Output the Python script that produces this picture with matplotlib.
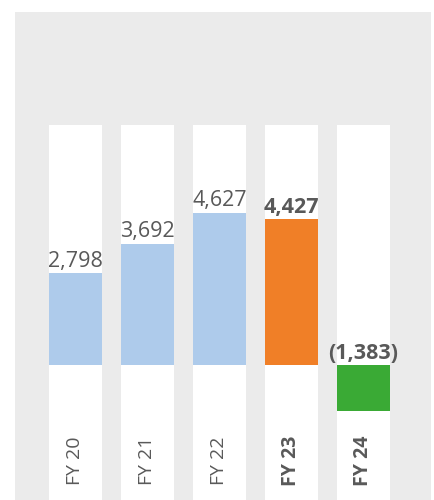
import matplotlib.pyplot as plt

plt.rcParams['font.family'] = ['Open Sans', 'DejaVu Sans']

years = ['FY 20', 'FY 21', 'FY 22', 'FY 23', 'FY 24']
values = [2798, 3692, 4627, 4427, -1383]
colors = ['#aecbeb', '#aecbeb', '#aecbeb', '#f07f27', '#3aaa35']
bold = [False, False, False, True, True]

fig = plt.figure(figsize=(4.35, 5), dpi=100, facecolor='white')
ax = fig.add_axes([15 / 435, 0, 416 / 435, 488 / 500])
ax.set_facecolor('#ebebeb')

ymin, ymax = -4103, 10729
col_top = 7295
x = list(range(len(years)))
w = 0.736

# white background columns
ax.bar(x, [col_top - ymin] * len(x), bottom=ymin, width=w, color='white', zorder=1)
ax.bar(x, values, width=w, color=colors, zorder=2)

for xi, v, b in zip(x, values, bold):
    txt = f'{v:,}' if v >= 0 else f'({-v:,})'
    ax.text(xi, max(v, 0) + 40, txt, ha='center', va='bottom', fontsize=15.5,
            color='#595959', fontweight='bold' if b else 'normal', zorder=3)

for xi, lab, b in zip(x, years, bold):
    ax.text(xi, -2918, lab, rotation=90, ha='center', va='center', fontsize=14,
            color='#595959', fontweight='bold' if b else 'normal', zorder=3)

ax.set_xlim(-0.840, 4.9375)
ax.set_ylim(ymin, ymax)
ax.set_xticks([])
ax.set_yticks([])
for s in ax.spines.values():
    s.set_visible(False)

fig.savefig('out.png', dpi=100, facecolor='white')
